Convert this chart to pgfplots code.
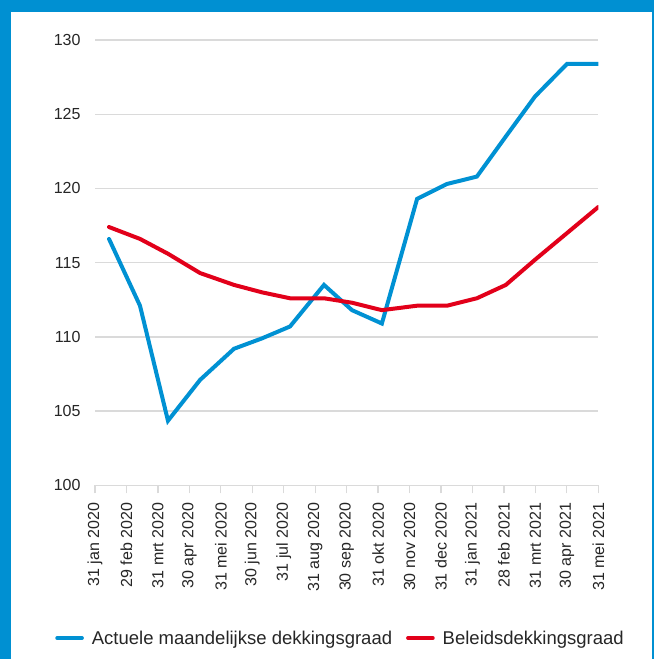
\documentclass[border=0pt]{standalone}
\usepackage{fontspec}
\setmainfont{Liberation Sans}
\usepackage{pgfplots}
\pgfplotsset{compat=1.18}
\definecolor{frameblue}{HTML}{0090D2}
\definecolor{lineblue}{HTML}{0091D3}
\definecolor{linered}{HTML}{E2001A}
\definecolor{gridgray}{HTML}{DADADA}

% x = month index (0 = 31 jan 2020), points sit slightly right of the ticks
\pgfplotstableread{
x      actueel beleid
0.445  116.6   117.4
1.43   112.1   116.6
2.32   104.35  115.6
3.34   107.1   114.3
4.42   109.2   113.5
5.31   109.9   113.0
6.20   110.7   112.6
7.28   113.5   112.6
8.17   111.8   112.3
9.12   110.9   111.8
10.24  119.3   112.1
11.19  120.3   112.1
12.14  120.8   112.6
13.06  123.5   113.5
13.99  126.2   115.2
15.01  128.4   117.0
16.0   128.4   118.75
}\dekking

\begin{document}
\begin{tikzpicture}
\useasboundingbox (0,0) rectangle (654bp,-659bp);
\fill[white] (0,0) rectangle (654bp,-659bp);
\fill[frameblue] (0,0) rectangle (654bp,-11.5bp);
\fill[frameblue] (0,0) rectangle (11bp,-659bp);
\fill[frameblue] (652.3bp,0) rectangle (654bp,-659bp);
\begin{axis}[
  at={(95bp,-485.3bp)}, anchor=south west,
  scale only axis, width=503.3bp, height=445.3bp,
  xmin=0, xmax=16, ymin=100, ymax=130,
  xtick={0,...,16},
  xticklabels={31 jan 2020, 29 feb 2020, 31 mrt 2020, 30 apr 2020, 31 mei 2020,
    30 jun 2020, 31 jul 2020, 31 aug 2020, 30 sep 2020, 31 okt 2020,
    30 nov 2020, 31 dec 2020, 31 jan 2021, 28 feb 2021, 31 mrt 2021,
    30 apr 2021, 31 mei 2021},
  ytick={100,105,...,130},
  axis line style={draw=none},
  ymajorgrids, grid style={gridgray, line width=1.3bp},
  tick pos=left, tick align=outside,
  major tick length=8bp,
  xtick style={gridgray, line width=1.3bp},
  ytick style={draw=none},
  /pgf/number format/assume math mode=true,
  tick label style={font=\fontsize{16bp}{18bp}\selectfont, text=black!85},
  xticklabel style={rotate=90, anchor=east},
  xticklabel shift=6bp,
  yticklabel style={anchor=east},
  yticklabel shift=3bp,
  legend columns=2,
  legend style={at={(0.4878,-0.343)}, anchor=center, draw=none, fill=none,
    font=\fontsize{18.5bp}{20bp}\selectfont, text=black!85,
    /tikz/every odd column/.append style={column sep=6bp},
    /tikz/every even column/.append style={column sep=12bp}},
  legend image code/.code={\draw[#1, line width=3.6bp] (0bp,0bp) -- (25bp,0bp);},
]
\addplot[lineblue, line width=4bp, line cap=round] table[x=x, y=actueel] {\dekking};
\addlegendentry{Actuele maandelijkse dekkingsgraad}
\addplot[linered, line width=4bp, line cap=round] table[x=x, y=beleid] {\dekking};
\addlegendentry{Beleidsdekkingsgraad}
\end{axis}
\end{tikzpicture}
\end{document}
